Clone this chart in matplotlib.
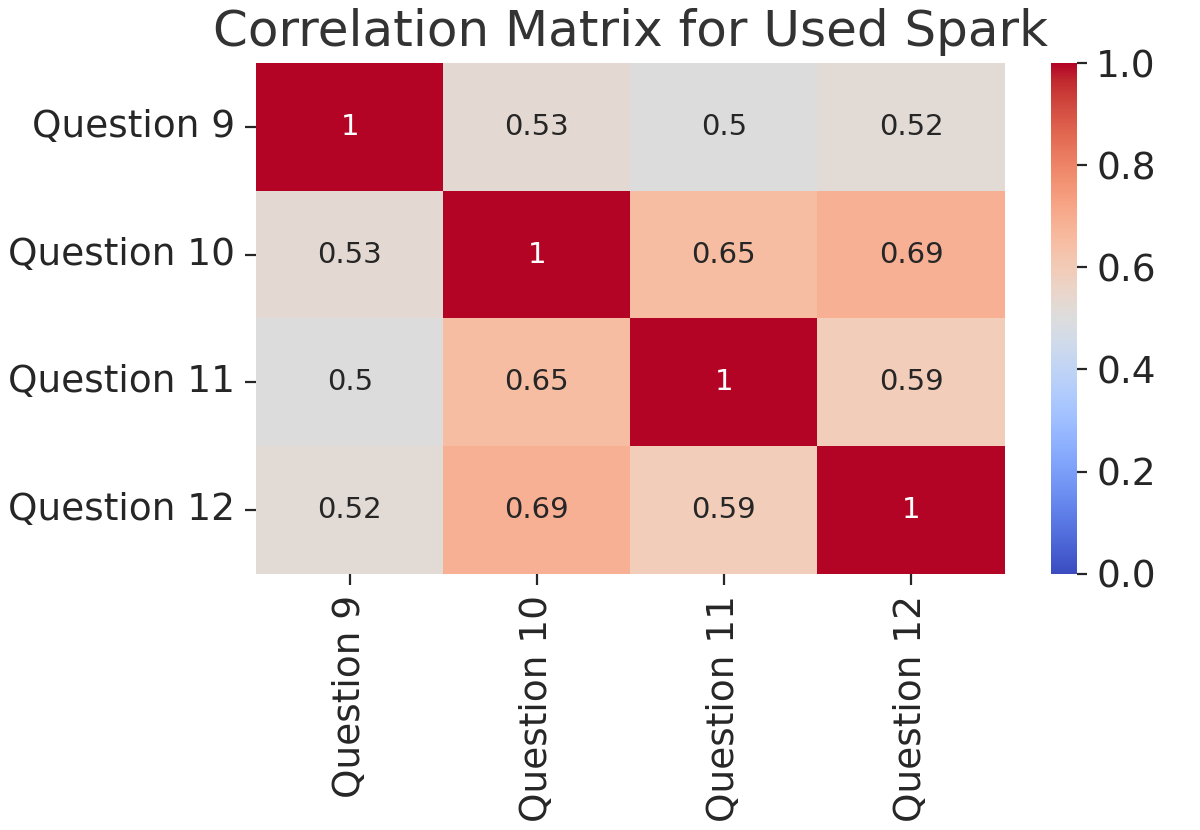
import matplotlib
matplotlib.use("Agg")
import matplotlib.pyplot as plt
import seaborn as sns
import pandas as pd

labels = ["Question 9", "Question 10", "Question 11", "Question 12"]
row_q9 = [1.0, 0.53, 0.5, 0.52]
row_q10 = [0.53, 1.0, 0.65, 0.69]
row_q11 = [0.5, 0.65, 1.0, 0.59]
row_q12 = [0.52, 0.69, 0.59, 1.0]

corr = pd.DataFrame([row_q9, row_q10, row_q11, row_q12], index=labels, columns=labels)

plt.rcParams["text.color"] = "#262626"
plt.rcParams["xtick.color"] = "#262626"
plt.rcParams["ytick.color"] = "#262626"

fig, ax = plt.subplots(figsize=(6, 4.15), dpi=200)
sns.heatmap(corr, annot=True, cmap="coolwarm", vmin=0, vmax=1, ax=ax,
            annot_kws={"size": 10.5})
ax.set_title("Correlation Matrix for Used Spark", fontsize=18, color="#333333")
ax.tick_params(axis="both", labelsize=13.5, length=4)
plt.setp(ax.get_xticklabels(), rotation=90)
plt.setp(ax.get_yticklabels(), rotation=0)
cbar = ax.collections[0].colorbar
cbar.ax.tick_params(labelsize=13.5)
plt.tight_layout(pad=0.3)
plt.savefig("out.png", dpi=200)
